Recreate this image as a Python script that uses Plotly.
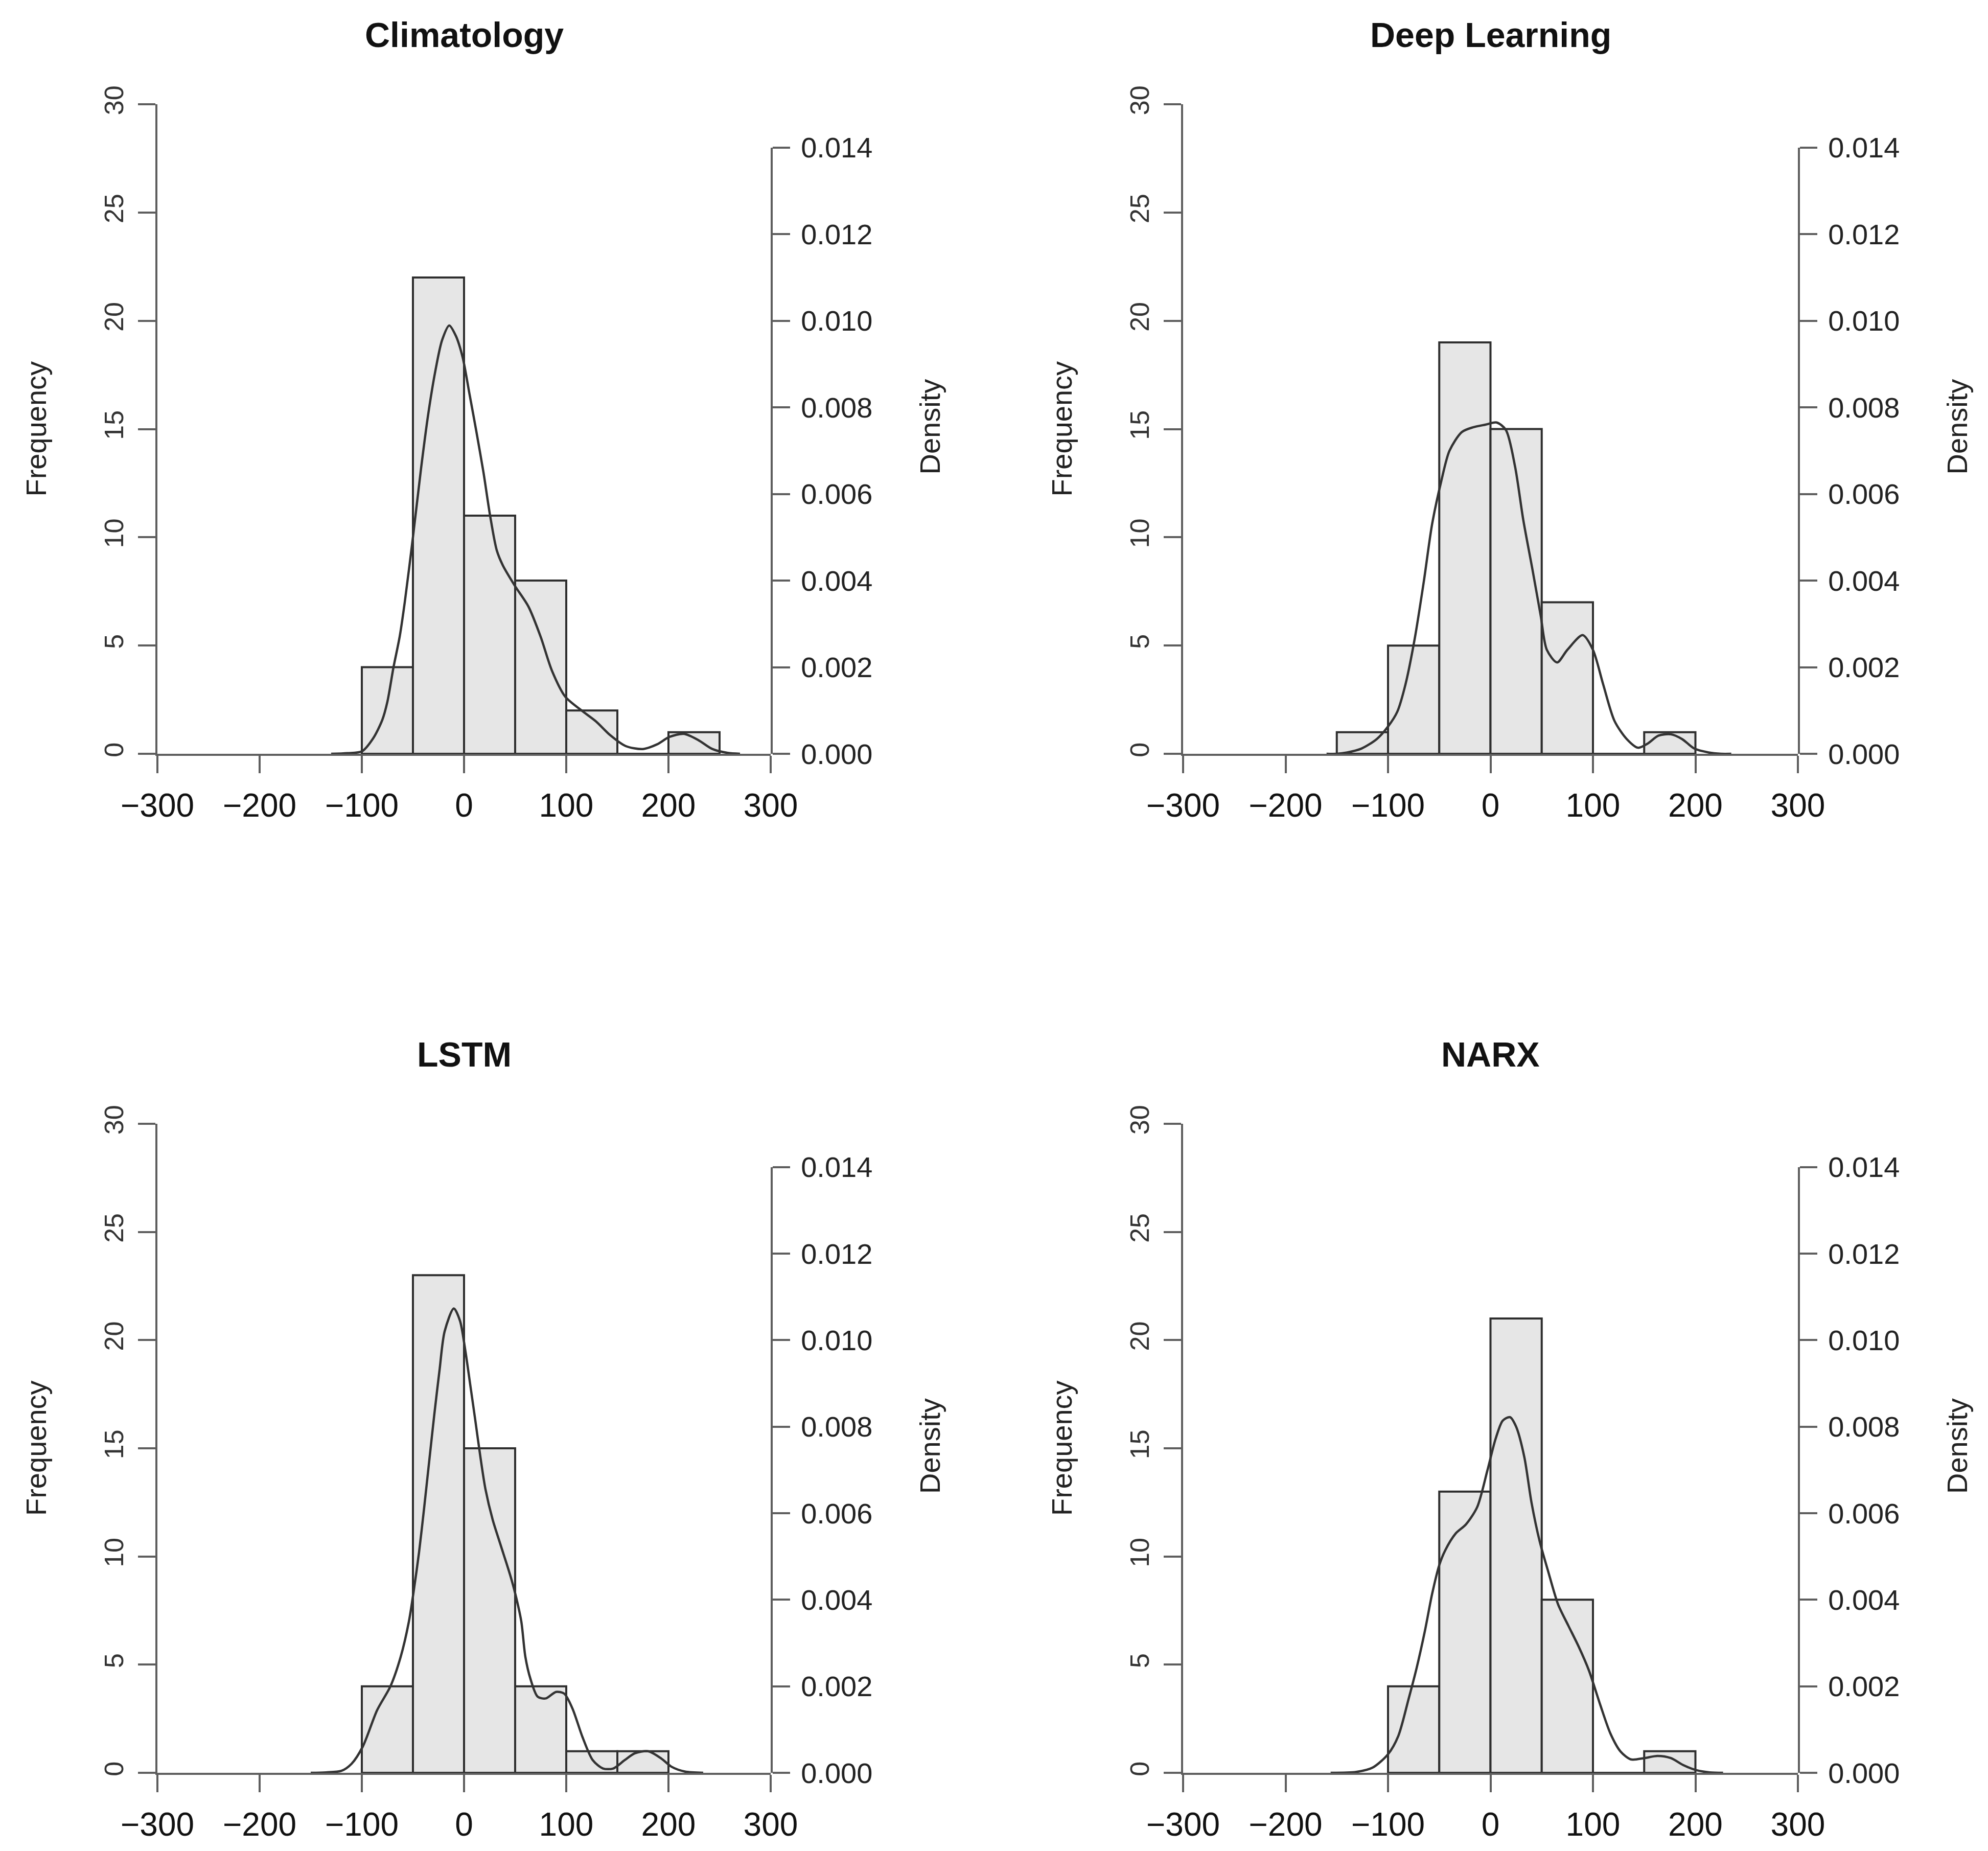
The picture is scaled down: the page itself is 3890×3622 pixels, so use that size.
"""Four histograms of forecast errors with density curves (Climatology, Deep Learning, LSTM, NARX)"""

import plotly.graph_objs as go

W, H = 3890, 3622

TITLES = ['Climatology', 'Deep Learning', 'LSTM', 'NARX']

# histogram bins (width 50) and frequencies
CLIM_BINS = [-75, -25, 25, 75, 125, 175, 225]
CLIM_FREQ = [4, 22, 11, 8, 2, 0, 1]
DL_BINS = [-125, -75, -25, 25, 75, 125, 175]
DL_FREQ = [1, 5, 19, 15, 7, 0, 1]
LSTM_BINS = [-75, -25, 25, 75, 125, 175]
LSTM_FREQ = [4, 23, 15, 4, 1, 1]
NARX_BINS = [-75, -25, 25, 75, 125, 175]
NARX_FREQ = [4, 13, 21, 8, 0, 1]

# density curves
CLIM_DX = [-130, -114, -100, -89, -80, -75, -69, -63, -58, -50, -42, -35, -28, -21.5, -14.5, -8,
           -1.3, 5.4, 12, 19, 25.5, 32, 38, 50, 63, 75, 86, 99, 115, 129, 143, 158, 175, 189, 201,
           215, 229, 243, 258, 270]
CLIM_DY = [0, 0.000015, 0.000055, 0.000355, 0.00078, 0.0012, 0.002, 0.0027, 0.0035, 0.005, 0.0066,
           0.00785, 0.00885, 0.00955, 0.00989, 0.00965, 0.00915, 0.0083, 0.00745, 0.0065, 0.0055,
           0.0047, 0.00435, 0.00387, 0.0034, 0.0027, 0.00192, 0.00132, 0.001, 0.00075, 0.00043,
           0.00018, 0.00011, 0.00022, 0.00039, 0.00046, 0.00032, 0.00011, 0.00002, 0]
DL_DX = [-160, -150, -140, -126, -111, -100, -91, -83, -74, -65, -57, -48, -40, -28, -17, -5, 6, 15,
         24, 32, 41, 49, 55, 65, 75, 90, 100, 110, 121, 133, 144, 153, 164, 176, 187, 199, 213, 225, 235]
DL_DY = [0, 0, 0.00003, 0.00012, 0.00034, 0.00063, 0.00097, 0.0016, 0.00265, 0.00399, 0.0053,
         0.0063, 0.007, 0.00743, 0.00754, 0.0076, 0.00765, 0.00748, 0.00663, 0.0054, 0.00425,
         0.00319, 0.0024, 0.00211, 0.0024, 0.00274, 0.0024, 0.0016, 0.00076, 0.00034, 0.00014,
         0.00023, 0.00042, 0.00045, 0.00034, 0.00012, 0.00003, 0, 0]
LSTM_DX = [-150, -135, -120, -110, -99, -85, -72, -62, -54, -49, -44, -39, -34, -29, -24, -19, -10,
           -4, 1, 6, 11, 16, 21, 28, 36, 45, 50, 56, 60, 65, 72, 80, 90, 98, 106, 116, 126, 136,
           146, 157, 167, 180, 193, 203, 216, 234]
LSTM_DY = [0, 0.00001, 0.000045, 0.00021, 0.00061, 0.00145, 0.002, 0.00268, 0.00349, 0.00424,
           0.0051, 0.00613, 0.00722, 0.0083, 0.0093, 0.0102, 0.01073, 0.01045, 0.0098, 0.00898,
           0.00815, 0.0073, 0.00655, 0.00585, 0.00525, 0.00458, 0.00415, 0.0035, 0.00268, 0.00217,
           0.00176, 0.00172, 0.00187, 0.00183, 0.00149, 0.00082, 0.00029, 0.0001, 0.0001, 0.00029,
           0.00045, 0.0005, 0.00033, 0.00014, 0.00003, 0]
NARX_DX = [-156, -131, -115, -100, -90, -80, -72, -64, -57, -50, -44, -34, -24, -13, -3, 5, 12, 19,
           25, 33, 40, 48, 56, 66, 76, 86, 96, 107, 117, 127, 137, 150, 163, 176, 188, 201, 214, 227]
NARX_DY = [0, 0.00002, 0.00012, 0.00043, 0.00085, 0.0017, 0.00243, 0.00328, 0.00413, 0.0048,
           0.00515, 0.00553, 0.00574, 0.00614, 0.00699, 0.00772, 0.00814, 0.00822, 0.008, 0.0073,
           0.00625, 0.00535, 0.00468, 0.00389, 0.0034, 0.00292, 0.00237, 0.00158, 0.00091, 0.00049,
           0.00031, 0.00034, 0.00039, 0.00034, 0.00018, 0.00006, 0.00001, 0]

X_TICKS = [-300, -200, -100, 0, 100, 200, 300]
FREQ_TICKS = [0, 5, 10, 15, 20, 25, 30]
DENS_TICKS = [0, 0.002, 0.004, 0.006, 0.008, 0.010, 0.012, 0.014]

PANELS = [
    (TITLES[0], CLIM_BINS, CLIM_FREQ, CLIM_DX, CLIM_DY),
    (TITLES[1], DL_BINS, DL_FREQ, DL_DX, DL_DY),
    (TITLES[2], LSTM_BINS, LSTM_FREQ, LSTM_DX, LSTM_DY),
    (TITLES[3], NARX_BINS, NARX_FREQ, NARX_DX, NARX_DY),
]

# pixel boxes of each panel: (left, right, y of 0, y of 30)
BOXES = [(300, 1500, 1467, 196), (2307, 3510, 1467, 196),
         (300, 1500, 3461, 2191), (2307, 3510, 3461, 2191)]

AXIS_COL = '#5e5e5e'
FONT = 'Liberation Sans, Arial, sans-serif'


def px(x):
    return x / W


def py(y):
    return 1 - y / H


traces = []
layout = dict(width=W, height=H, margin=dict(l=0, r=0, t=0, b=0, autoexpand=False),
              paper_bgcolor='white', plot_bgcolor='rgba(0,0,0,0)',
              showlegend=False, annotations=[], font=dict(family=FONT, color='#222'))

for i, (title, bins, freq, dx, dy) in enumerate(PANELS):
    left, right, y0, y30 = BOXES[i]
    n = i + 1
    xa, ya, yd = 'x%d' % n, 'y%d' % n, 'y%d' % (n + 4)
    dom_y = [py(y0), py(y30)]
    # density axis stops at 0.014 while 30 counts equal 0.015
    dom_d = [dom_y[0], dom_y[0] + (dom_y[1] - dom_y[0]) * 14 / 15]

    traces.append(go.Bar(x=bins, y=freq, width=50, xaxis=xa, yaxis=ya,
                         marker=dict(color='#e6e6e6', line=dict(color='#2e2e2e', width=4))))
    traces.append(go.Scatter(x=dx, y=dy, xaxis=xa, yaxis=yd, mode='lines',
                             line=dict(color='#333333', width=4.5, shape='spline', smoothing=0.8)))

    layout['xaxis%d' % n] = dict(
        domain=[px(left), px(right)], anchor=ya, range=[-300, 300], automargin=False,
        tickmode='array', tickvals=X_TICKS, ticks='outside', ticklen=34, tickwidth=4,
        tickcolor=AXIS_COL, showline=True, linecolor=AXIS_COL, linewidth=4,
        showgrid=False, zeroline=False, ticklabelstandoff=8,
        tickfont=dict(family=FONT, size=64, color='#111'))
    layout['yaxis%d' % n] = dict(
        domain=dom_y, anchor=xa, range=[0, 30], automargin=False,
        tickmode='array', tickvals=FREQ_TICKS, ticks='outside', ticklen=34, tickwidth=4,
        tickcolor=AXIS_COL, showline=True, linecolor=AXIS_COL, linewidth=4,
        showgrid=False, zeroline=False, tickangle=-90, ticklabelstandoff=8,
        tickfont=dict(family=FONT, size=52, color='#333'))
    layout['yaxis%d' % (n + 4)] = dict(
        domain=dom_d, anchor=xa, side='right', range=[0, 0.014], automargin=False,
        tickmode='array', tickvals=DENS_TICKS, tickformat='.3f', ticks='outside',
        ticklen=34, tickwidth=4, tickcolor=AXIS_COL, showline=True, linecolor=AXIS_COL,
        linewidth=4, showgrid=False, zeroline=False, ticklabelstandoff=10,
        tickfont=dict(family=FONT, size=56, color='#222'))

    mid = (y0 + y30) / 2
    layout['annotations'] += [
        dict(text=title, x=px((left + right) / 2), y=py(y30 - 136), xref='paper', yref='paper',
             xanchor='center', yanchor='middle', showarrow=False,
             font=dict(family=FONT, size=68, color='#111', weight='bold')),
        dict(text='Frequency', x=px(left - 238), y=py(mid), xref='paper', yref='paper',
             xanchor='center', yanchor='middle', textangle=-90, showarrow=False,
             font=dict(family=FONT, size=56, color='#222')),
        dict(text='Density', x=px(right + 311), y=py(mid - 4), xref='paper', yref='paper',
             xanchor='center', yanchor='middle', textangle=-90, showarrow=False,
             font=dict(family=FONT, size=56, color='#222')),
    ]

fig = go.Figure(traces, layout=go.Layout(**layout))
fig.write_html('out.html')
